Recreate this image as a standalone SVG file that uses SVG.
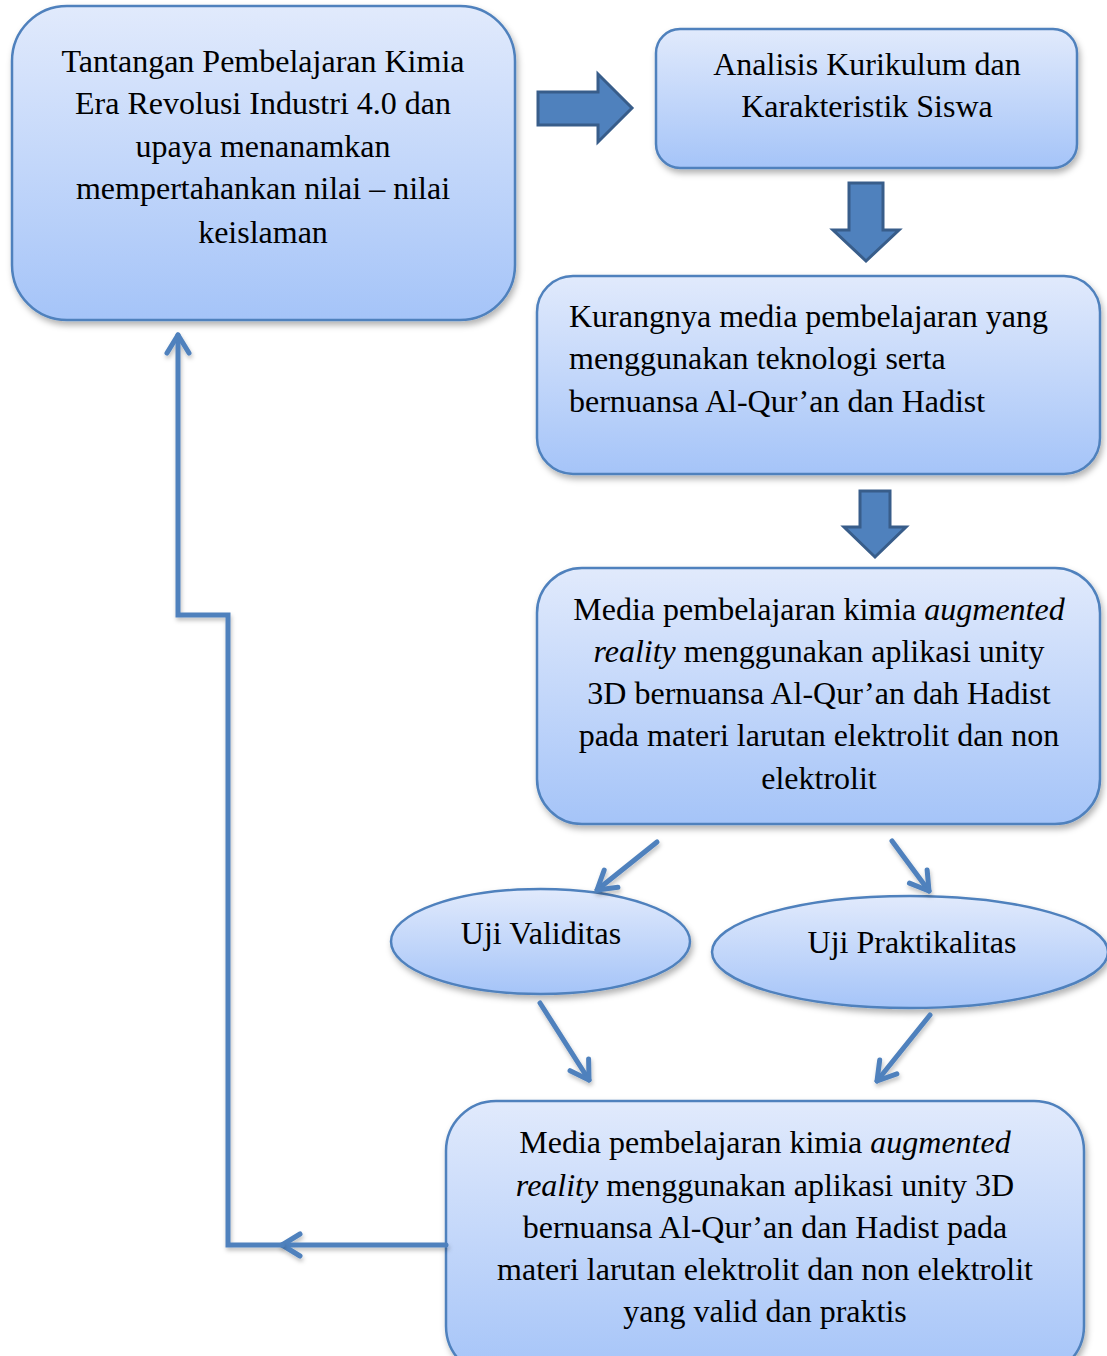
<svg xmlns="http://www.w3.org/2000/svg" width="1107" height="1356" viewBox="0 0 1107 1356">
<defs>
<linearGradient id="g" x1="0" y1="0" x2="0" y2="1">
<stop offset="0" stop-color="#E1EAFC"/>
<stop offset="1" stop-color="#A5C4F8"/>
</linearGradient>
<filter id="sh" x="-10%" y="-10%" width="125%" height="130%">
<feDropShadow dx="2" dy="4" stdDeviation="3" flood-color="#000" flood-opacity="0.3"/>
</filter>
<filter id="lsh" filterUnits="userSpaceOnUse" x="0" y="0" width="1107" height="1356">
<feDropShadow dx="1" dy="3" stdDeviation="2" flood-color="#000" flood-opacity="0.25"/>
</filter>
<marker id="ah" markerUnits="userSpaceOnUse" markerWidth="60" markerHeight="60" refX="0" refY="0" viewBox="-30 -30 60 60" orient="auto" overflow="visible">
<path d="M-18,-11 L0,0 L-18,11" fill="none" stroke="#4F81BD" stroke-width="5" stroke-linecap="round" stroke-linejoin="round"/>
</marker>
</defs>
<style>
.box{fill:url(#g);stroke:#4F81BD;stroke-width:2.5;filter:url(#sh)}
.blk{fill:#4F81BD;stroke:#385D8A;stroke-width:3;stroke-linejoin:miter}
.t{font-family:"Liberation Serif","Times New Roman",serif;font-size:32px;fill:#000}
.c{text-anchor:middle}
.con{fill:none;stroke:#4F81BD;stroke-width:5;stroke-linecap:round;stroke-linejoin:miter;marker-end:url(#ah);filter:url(#lsh)}
</style>
<rect width="1107" height="1356" fill="#fff"/>

<g id="node-tantangan">
<rect class="box" x="12" y="6" width="503" height="314" rx="55"/>
<text class="t c" x="263" y="72">Tantangan Pembelajaran Kimia</text>
<text class="t c" x="263" y="114">Era Revolusi Industri 4.0 dan</text>
<text class="t c" x="263" y="157">upaya menanamkan</text>
<text class="t c" x="263" y="199">mempertahankan nilai – nilai</text>
<text class="t c" x="263" y="243">keislaman</text>
</g>

<g id="node-analisis">
<rect class="box" x="656" y="29" width="421" height="139" rx="24"/>
<text class="t c" x="867" y="75">Analisis Kurikulum dan</text>
<text class="t c" x="867" y="117">Karakteristik Siswa</text>
</g>

<g id="node-kurangnya">
<rect class="box" x="537" y="276" width="563" height="198" rx="36"/>
<text class="t" x="569" y="327">Kurangnya media pembelajaran yang</text>
<text class="t" x="569" y="369">menggunakan teknologi serta</text>
<text class="t" x="569" y="412">bernuansa Al-Qur’an dan Hadist</text>
</g>

<g id="node-media">
<rect class="box" x="537" y="568" width="563" height="256" rx="45"/>
<text class="t c" x="819" y="620">Media pembelajaran kimia <tspan font-style="italic">augmented</tspan></text>
<text class="t c" x="819" y="662"><tspan font-style="italic">reality</tspan> menggunakan aplikasi unity</text>
<text class="t c" x="819" y="704">3D bernuansa Al-Qur’an dah Hadist</text>
<text class="t c" x="819" y="746">pada materi larutan elektrolit dan non</text>
<text class="t c" x="819" y="789">elektrolit</text>
</g>

<g id="node-validitas">
<ellipse class="box" cx="540.5" cy="941.5" rx="149.5" ry="52.5"/>
<text class="t c" x="541" y="944">Uji Validitas</text>
</g>

<g id="node-praktikalitas">
<ellipse class="box" cx="910" cy="952" rx="198" ry="56"/>
<text class="t c" x="912" y="953">Uji Praktikalitas</text>
</g>

<g id="node-hasil">
<rect class="box" x="446" y="1101" width="638" height="275" rx="50"/>
<text class="t c" x="765" y="1153">Media pembelajaran kimia <tspan font-style="italic">augmented</tspan></text>
<text class="t c" x="765" y="1196"><tspan font-style="italic">reality</tspan> menggunakan aplikasi unity 3D</text>
<text class="t c" x="765" y="1238">bernuansa Al-Qur’an dan Hadist pada</text>
<text class="t c" x="765" y="1280">materi larutan elektrolit dan non elektrolit</text>
<text class="t c" x="765" y="1322">yang valid dan praktis</text>
</g>

<g id="connectors">
<path class="blk" d="M538,92 H598 V74 L632,108 L598,142 V125 H538 Z"/>
<path class="blk" d="M849,183 H883 V230 H899 L866,261 L833,230 H849 Z"/>
<path class="blk" d="M860,491 H890 V527 H906 L875,557 L844,527 H860 Z"/>
<path class="con" d="M657,842 L597,890"/>
<path class="con" d="M892,841 L929,891"/>
<path class="con" d="M540,1003 L589,1080"/>
<path class="con" d="M930,1015 L877,1081"/>
<path class="con" d="M446,1245 L282,1245"/>
<path class="con" d="M282,1245 H228 V615 H178 V335"/>
</g>
</svg>
